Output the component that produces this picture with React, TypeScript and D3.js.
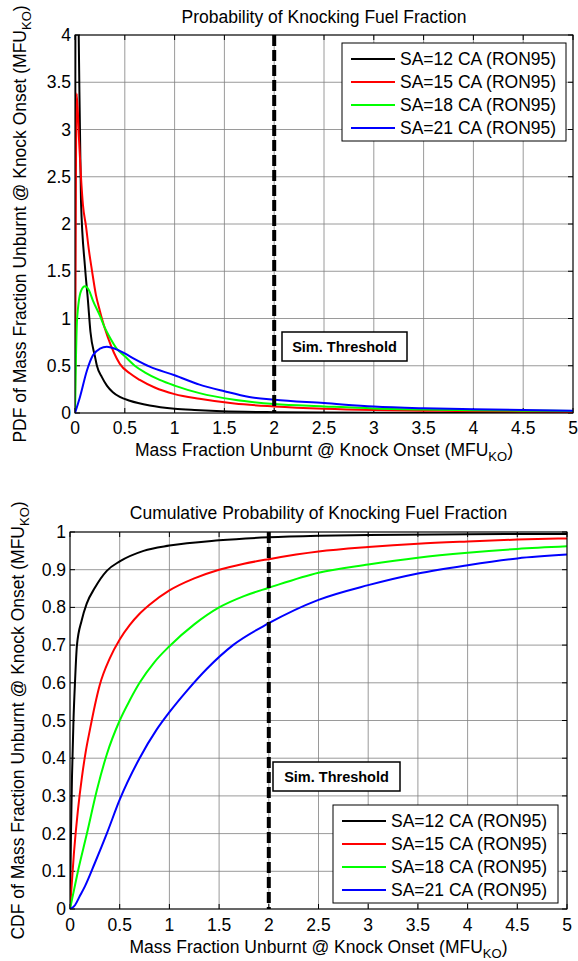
import React from 'react';
import * as d3 from 'd3';

type Pt = [number, number];

const seriesNames = ['SA=12 CA (RON95)', 'SA=15 CA (RON95)', 'SA=18 CA (RON95)', 'SA=21 CA (RON95)'];
const seriesColors = ['#000000', '#ff0000', '#00ff00', '#0000ff'];
const xTickValues = [0, 0.5, 1, 1.5, 2, 2.5, 3, 3.5, 4, 4.5, 5];
const pdfTickValues = [0, 0.5, 1, 1.5, 2, 2.5, 3, 3.5, 4];
const cdfTickValues = [0, 0.1, 0.2, 0.3, 0.4, 0.5, 0.6, 0.7, 0.8, 0.9, 1];
const thresholdX = 2;
const thresholdLabel = 'Sim. Threshold';
const pdfTitle = 'Probability of Knocking Fuel Fraction';
const cdfTitle = 'Cumulative Probability of Knocking Fuel Fraction';
const xLabelText = 'Mass Fraction Unburnt @ Knock Onset (MFU';
const pdfYLabelText = 'PDF of Mass Fraction Unburnt @ Knock Onset (MFU';
const cdfYLabelText = 'CDF of Mass Fraction Unburnt @ Knock Onset (MFU';
const subscriptText = 'KO';

// PDF curves
const pdfSA12: Pt[] = [[0, 0], [0.008, 6], [0.035, 4.2], [0.06, 2.25], [0.1, 1.55], [0.13, 1.19], [0.155, 0.86], [0.2, 0.6], [0.22, 0.5], [0.27, 0.38], [0.32, 0.29], [0.38, 0.22], [0.45, 0.17], [0.55, 0.13], [0.75, 0.08], [1, 0.046], [1.2, 0.032], [1.42, 0.021], [1.7, 0.013], [2, 0.009], [2.5, 0.005], [3, 0.003], [4, 0.002], [5, 0.001]];
const pdfSA15: Pt[] = [[0, 0], [0.017, 3.38], [0.04, 2.9], [0.06, 2.5], [0.08, 2.2], [0.11, 1.98], [0.14, 1.72], [0.17, 1.51], [0.21, 1.25], [0.25, 1.08], [0.27, 1.0], [0.33, 0.8], [0.39, 0.64], [0.45, 0.52], [0.55, 0.42], [0.65, 0.35], [0.8, 0.27], [1, 0.2], [1.25, 0.15], [1.6, 0.1], [2, 0.07], [2.5, 0.046], [3, 0.032], [3.5, 0.025], [4, 0.018], [4.5, 0.014], [5, 0.01]];
const pdfSA18: Pt[] = [[0, 0], [0.01, 0.6], [0.02, 0.98], [0.06, 1.29], [0.1, 1.34], [0.14, 1.3], [0.18, 1.19], [0.25, 1.03], [0.3, 0.9], [0.35, 0.8], [0.42, 0.68], [0.5, 0.6], [0.6, 0.5], [0.7, 0.43], [0.85, 0.35], [1, 0.29], [1.25, 0.21], [1.6, 0.14], [2, 0.095], [2.5, 0.07], [3, 0.048], [3.5, 0.037], [4, 0.03], [4.5, 0.025], [5, 0.02]];
const pdfSA21: Pt[] = [[0, 0], [0.05, 0.17], [0.12, 0.45], [0.18, 0.61], [0.25, 0.68], [0.32, 0.7], [0.4, 0.68], [0.5, 0.63], [0.6, 0.57], [0.75, 0.49], [1, 0.4], [1.25, 0.3], [1.5, 0.23], [1.75, 0.17], [2, 0.14], [2.5, 0.105], [3, 0.068], [3.5, 0.05], [4, 0.04], [4.5, 0.032], [5, 0.025]];

// CDF curves
const cdfSA12: Pt[] = [[0, 0], [0.01, 0.2], [0.02, 0.35], [0.035, 0.5], [0.05, 0.6], [0.07, 0.7], [0.118, 0.766], [0.168, 0.81], [0.25, 0.852], [0.37, 0.897], [0.5, 0.922], [0.74, 0.95], [1, 0.964], [1.5, 0.978], [2, 0.986], [2.5, 0.99], [3, 0.992], [4, 0.994], [5, 0.995]];
const cdfSA15: Pt[] = [[0, 0], [0.04, 0.15], [0.08, 0.263], [0.12, 0.35], [0.16, 0.42], [0.2, 0.475], [0.25, 0.54], [0.3, 0.595], [0.4, 0.665], [0.5, 0.715], [0.6, 0.753], [0.7, 0.783], [0.8, 0.807], [1, 0.845], [1.25, 0.877], [1.5, 0.9], [1.75, 0.916], [2, 0.928], [2.5, 0.948], [3, 0.96], [3.5, 0.969], [4, 0.975], [4.5, 0.98], [5, 0.983]];
const cdfSA18: Pt[] = [[0, 0], [0.04, 0.05], [0.08, 0.1], [0.17, 0.2], [0.27, 0.315], [0.37, 0.41], [0.5, 0.5], [0.6, 0.553], [0.7, 0.6], [0.85, 0.655], [1, 0.697], [1.25, 0.755], [1.5, 0.8], [1.75, 0.83], [2, 0.852], [2.5, 0.892], [3, 0.914], [3.5, 0.932], [4, 0.945], [4.5, 0.955], [5, 0.962]];
const cdfSA21: Pt[] = [[0, 0], [0.05, 0.01], [0.1, 0.035], [0.15, 0.06], [0.25, 0.122], [0.37, 0.2], [0.5, 0.29], [0.7, 0.4], [0.87, 0.475], [1, 0.522], [1.18, 0.58], [1.38, 0.638], [1.64, 0.7], [2, 0.758], [2.5, 0.82], [3, 0.859], [3.5, 0.89], [4, 0.912], [4.5, 0.93], [5, 0.94]];

const pdfSeries = [pdfSA12, pdfSA15, pdfSA18, pdfSA21];
const cdfSeries = [cdfSA12, cdfSA15, cdfSA18, cdfSA21];

const FONT = "'Liberation Sans', Arial, sans-serif";

type Box = { x: number; y: number; w: number; h: number };

type PanelProps = {
  id: string;
  left: number; right: number; top: number; bottom: number;
  yTicks: number[];
  series: Pt[][];
  title: string; titleY: number;
  yLabel: string; yLabelX: number;
  tickLabelY: number; xLabelY: number;
  legend: Box;
  thresholdBox: Box;
};

function Panel(p: PanelProps) {
  const x = d3.scaleLinear().domain([0, 5]).range([p.left, p.right]);
  const yMax = p.yTicks[p.yTicks.length - 1];
  const y = d3.scaleLinear().domain([0, yMax]).range([p.bottom, p.top]);
  const line = d3.line<Pt>().x(d => x(d[0])).y(d => y(d[1])).curve(d3.curveMonotoneX);
  const fmt = d3.format('~g');
  const tl = 5;
  const cx = (p.left + p.right) / 2;
  const cy = (p.top + p.bottom) / 2;
  return (
    <g>
      <defs>
        <clipPath id={p.id}>
          <rect x={p.left} y={p.top} width={p.right - p.left} height={p.bottom - p.top} />
        </clipPath>
      </defs>
      <rect x={p.left} y={p.top} width={p.right - p.left} height={p.bottom - p.top} fill="#fff" />
      {xTickValues.map(v => (
        <line key={'gx' + v} x1={x(v)} x2={x(v)} y1={p.top} y2={p.bottom} stroke="#808080" strokeWidth={0.8} />
      ))}
      {p.yTicks.map(v => (
        <line key={'gy' + v} x1={p.left} x2={p.right} y1={y(v)} y2={y(v)} stroke="#808080" strokeWidth={0.8} />
      ))}
      {xTickValues.map(v => (
        <g key={'tx' + v}>
          <line x1={x(v)} x2={x(v)} y1={p.bottom} y2={p.bottom - tl} stroke="#000" />
          <line x1={x(v)} x2={x(v)} y1={p.top} y2={p.top + tl} stroke="#000" />
          <text x={x(v)} y={p.tickLabelY} textAnchor="middle" dominantBaseline="central" fontSize={17.5} fontFamily={FONT}>{fmt(v)}</text>
        </g>
      ))}
      {p.yTicks.map(v => (
        <g key={'ty' + v}>
          <line x1={p.left} x2={p.left + tl} y1={y(v)} y2={y(v)} stroke="#000" />
          <line x1={p.right} x2={p.right - tl} y1={y(v)} y2={y(v)} stroke="#000" />
          <text x={p.left - 4} y={y(v)} textAnchor="end" dominantBaseline="central" fontSize={17.5} fontFamily={FONT}>{fmt(v)}</text>
        </g>
      ))}
      <g clipPath={`url(#${p.id})`}>
        {p.series.map((s, i) => (
          <path key={'s' + i} d={line(s) || ''} fill="none" stroke={seriesColors[i]} strokeWidth={2} strokeLinejoin="round" />
        ))}
        <line x1={x(thresholdX)} x2={x(thresholdX)} y1={p.top} y2={p.bottom} stroke="#000" strokeWidth={4} strokeDasharray="11,4" />
      </g>
      <rect x={p.left} y={p.top} width={p.right - p.left} height={p.bottom - p.top} fill="none" stroke="#000" strokeWidth={1} />
      <rect x={p.thresholdBox.x} y={p.thresholdBox.y} width={p.thresholdBox.w} height={p.thresholdBox.h} fill="#fff" stroke="#000" strokeWidth={1.5} />
      <text x={p.thresholdBox.x + p.thresholdBox.w / 2} y={p.thresholdBox.y + p.thresholdBox.h / 2} textAnchor="middle" dominantBaseline="central" fontSize={14.5} fontWeight="bold" fontFamily={FONT}>{thresholdLabel}</text>
      <rect x={p.legend.x} y={p.legend.y} width={p.legend.w} height={p.legend.h} fill="#fff" stroke="#000" strokeWidth={1} />
      {seriesNames.map((n, i) => {
        const ry = p.legend.y + 16 + i * 23;
        return (
          <g key={'l' + i}>
            <line x1={p.legend.x + 9} x2={p.legend.x + 53} y1={ry} y2={ry} stroke={seriesColors[i]} strokeWidth={2} />
            <text x={p.legend.x + 58} y={ry} dominantBaseline="central" fontSize={17.5} fontFamily={FONT}>{n}</text>
          </g>
        );
      })}
      <text x={cx} y={p.titleY} textAnchor="middle" dominantBaseline="central" fontSize={17.5} fontFamily={FONT}>{p.title}</text>
      <text x={cx} y={p.xLabelY} textAnchor="middle" dominantBaseline="central" fontSize={17.5} fontFamily={FONT}>
        {xLabelText}
        <tspan fontSize={13} dy={6}>{subscriptText}</tspan>
        <tspan dy={-6}>)</tspan>
      </text>
      <text transform={`translate(${p.yLabelX},${cy}) rotate(-90)`} textAnchor="middle" dominantBaseline="central" fontSize={17.5} fontFamily={FONT}>
        {p.yLabel}
        <tspan fontSize={13} dy={6}>{subscriptText}</tspan>
        <tspan dy={-6}>)</tspan>
      </text>
    </g>
  );
}

export default function App() {
  return (
    <svg width={578} height={961} style={{ position: 'absolute', left: 0, top: 0, background: '#fff' }}>
      <rect x={0} y={0} width={578} height={961} fill="#fff" />
      <Panel
        id="clipTop"
        left={75} right={573} top={35} bottom={413}
        yTicks={pdfTickValues}
        series={pdfSeries}
        title={pdfTitle} titleY={17}
        yLabel={pdfYLabelText} yLabelX={20}
        tickLabelY={428} xLabelY={450}
        legend={{ x: 342, y: 43, w: 224, h: 98 }}
        thresholdBox={{ x: 282, y: 332, w: 125, h: 29 }}
      />
      <Panel
        id="clipBottom"
        left={70} right={567} top={532} bottom={909}
        yTicks={cdfTickValues}
        series={cdfSeries}
        title={cdfTitle} titleY={513}
        yLabel={cdfYLabelText} yLabelX={18}
        tickLabelY={925} xLabelY={947}
        legend={{ x: 333, y: 805, w: 225, h: 98 }}
        thresholdBox={{ x: 273, y: 762, w: 127, h: 29 }}
      />
    </svg>
  );
}
